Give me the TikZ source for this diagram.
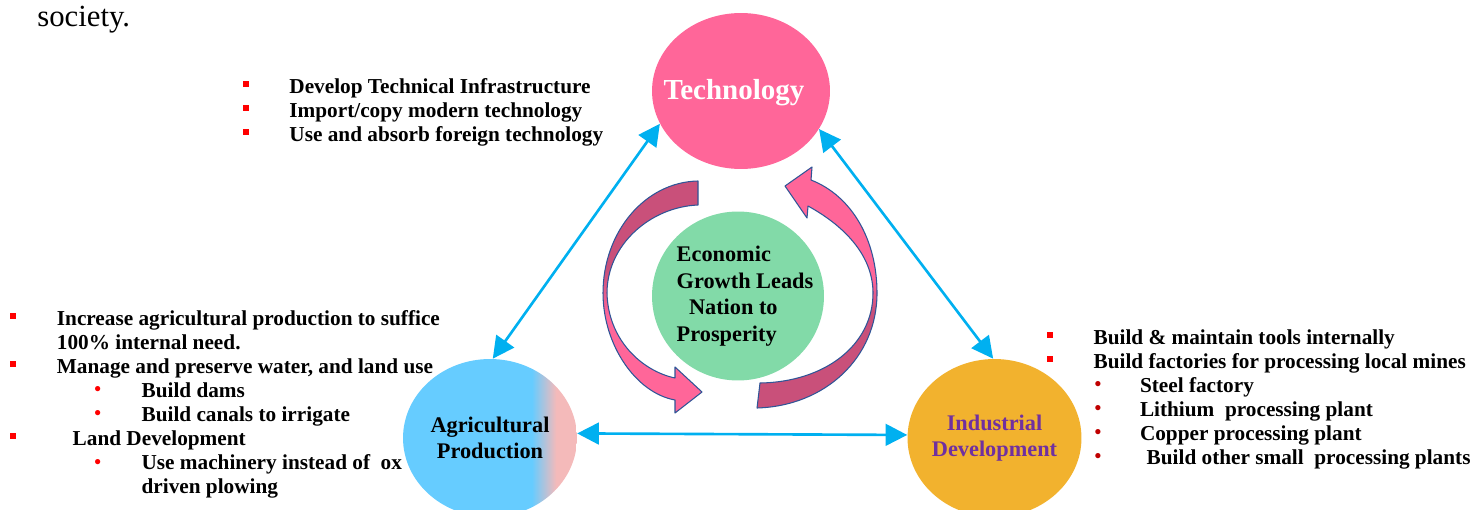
\documentclass[tikz,border=0pt]{standalone}
\usepackage{fontspec}
\setmainfont{Liberation Serif}
\usetikzlibrary{shapes.geometric, arrows.meta}

\definecolor{techpink}{HTML}{FF6699}
\definecolor{econgreen}{HTML}{82DAA8}
\definecolor{agriblue}{HTML}{66CCFF}
\definecolor{agripink}{HTML}{F4BABA}
\definecolor{indusgold}{HTML}{F2B22E}
\definecolor{induspurple}{HTML}{7030A0}
\definecolor{linkblue}{HTML}{00B0F0}
\definecolor{ribbonpink}{HTML}{FF6699}
\definecolor{ribbondark}{HTML}{C9507A}
\definecolor{ribbonedge}{HTML}{2F5597}
\definecolor{bulletred}{HTML}{FF0000}
\definecolor{bulletdark}{HTML}{C00000}

\pgfdeclareverticalshading{ribbonleft}{100bp}{color(0bp)=(ribbonpink); color(46bp)=(ribbonpink); color(56bp)=(ribbondark); color(100bp)=(ribbondark)}
\pgfdeclareverticalshading{ribbonright}{100bp}{color(0bp)=(ribbondark); color(45bp)=(ribbondark); color(52bp)=(ribbonpink); color(100bp)=(ribbonpink)}
\pgfdeclarehorizontalshading{agrifade}{100bp}{color(0bp)=(agriblue); color(62bp)=(agriblue); color(69bp)=(agripink); color(100bp)=(agripink)}

% bullets for the lists
\newcommand{\sqb}{\textcolor{bulletred}{\rule[3.7pt]{3.3pt}{3.2pt}}}
\newcommand{\dotb}[1][bulletred]{\textcolor{#1}{\raisebox{0.8pt}{\fontsize{11}{11}\selectfont\textbullet}}}

\begin{document}
\begin{tikzpicture}[x=0.02cm, y=-0.02cm,
    hub/.style={ellipse, inner sep=0pt},
    bullets/.style={anchor=base west, inner sep=0pt, font=\fontsize{12.1}{13.7}\selectfont\bfseries},
    link/.style={{Triangle[length=12.3pt,width=12.3pt]}-{Triangle[length=12.3pt,width=12.3pt]}, line width=1.5pt, draw=linkblue},
    ribbon/.style={draw=ribbonedge, line width=0.6pt, line join=round}]
    \useasboundingbox (0,0) rectangle (1473,510);
    \clip (0,0) rectangle (1473,510);

    % last word of the text above
    \node[anchor=base west, inner sep=0pt, font=\fontsize{17.5}{20}\selectfont] (society) at (37,27) {society.};

    % The four circles
    \node[hub, fill=techpink, minimum width=3.56cm, minimum height=3.12cm,
          label={[text=white, font=\fontsize{16.5}{19}\selectfont\bfseries, xshift=-0.14cm, yshift=-0.04cm]center:Technology}] (tech) at (741,91) {};
    \node[hub, fill=econgreen, minimum width=3.44cm, minimum height=3.38cm,
          label={[align=left, font=\fontsize{12.7}{15.1}\selectfont\bfseries, xshift=0.14cm]center:Economic\\Growth Leads\\\hspace*{7pt}Nation to\\Prosperity}] (econ) at (738,296) {};
    \node[hub, shade, shading=agrifade, minimum width=3.48cm, minimum height=3.16cm,
          label={[align=center, font=\fontsize{12.7}{14.6}\selectfont\bfseries]center:Agricultural\\Production}] (agri) at (490,438) {};
    \node[hub, fill=indusgold, minimum width=3.48cm, minimum height=3.16cm,
          label={[align=center, text=induspurple, font=\fontsize{12.7}{14.7}\selectfont\bfseries]center:Industrial\\Development}] (indus) at (994.5,438) {};

    % Links between the outer circles
    \draw[link] (tech.202) -- (agri.88);   % technology - agriculture
    \draw[link] (tech.334) -- (indus.91);  % technology - industry
    \draw[link] (agri.3) -- (indus.178);   % agriculture - industry

    % Turning arrows round the centre
    \shadedraw[ribbon, shading=ribbonleft]
        (698,181) .. controls (645,182) and (603,232) .. (603,293)
        .. controls (603,345) and (636,393) .. (675,400)
        -- (675,413) -- (702,392) -- (675,367) -- (675,378)
        .. controls (642,371) and (608,340) .. (607,293)
        .. controls (607,245) and (650,207) .. (698,205) -- cycle;
    \shadedraw[ribbon, shading=ribbonright]
        (757,408) .. controls (825,406) and (877,358) .. (877,293)
        .. controls (877,240) and (852,196) .. (811,180)
        -- (812,167) -- (785,186) -- (807,218) -- (808,206)
        .. controls (848,228) and (873,258) .. (873,293)
        .. controls (873,345) and (825,382) .. (760,383) -- cycle;

    % Lists of actions
    \node[bullets] (techlist) at (242.7,93) {\begin{tabular}[t]{@{}l@{}}
        \makebox[26.4pt][l]{\sqb}Develop Technical Infrastructure\\
        \makebox[26.4pt][l]{\sqb}Import/copy modern technology\\
        \makebox[26.4pt][l]{\sqb}Use and absorb foreign technology
        \end{tabular}};
    \node[bullets] (agrilist) at (10,325) {\begin{tabular}[t]{@{}l@{}}
        \makebox[26.5pt][l]{\sqb}Increase agricultural production to suffice\\
        \hspace*{26.5pt}100\% internal need.\\
        \makebox[26.5pt][l]{\sqb}Manage and preserve water, and land use\\
        \hspace*{47.8pt}\makebox[26.9pt][l]{\dotb}Build dams\\
        \hspace*{47.8pt}\makebox[26.9pt][l]{\dotb}Build canals to irrigate\\
        \makebox[35.5pt][l]{\sqb}Land Development\\
        \hspace*{47.8pt}\makebox[26.9pt][l]{\dotb}Use machinery instead of\ \ ox\\
        \hspace*{74.7pt}driven plowing
        \end{tabular}};
    \node[bullets] (induslist) at (1046.7,344) {\begin{tabular}[t]{@{}l@{}}
        \makebox[26.5pt][l]{\sqb}Build \& maintain tools internally\\
        \makebox[26.5pt][l]{\sqb}Build factories for processing local mines\\
        \hspace*{27pt}\makebox[25.9pt][l]{\dotb[bulletdark]}Steel factory\\
        \hspace*{27pt}\makebox[25.9pt][l]{\dotb[bulletdark]}Lithium\ \ processing plant\\
        \hspace*{27pt}\makebox[25.9pt][l]{\dotb[bulletdark]}Copper processing plant\\
        \hspace*{27pt}\makebox[29.7pt][l]{\dotb[bulletdark]}Build other small\ \ processing plants
        \end{tabular}};
\end{tikzpicture}
\end{document}
